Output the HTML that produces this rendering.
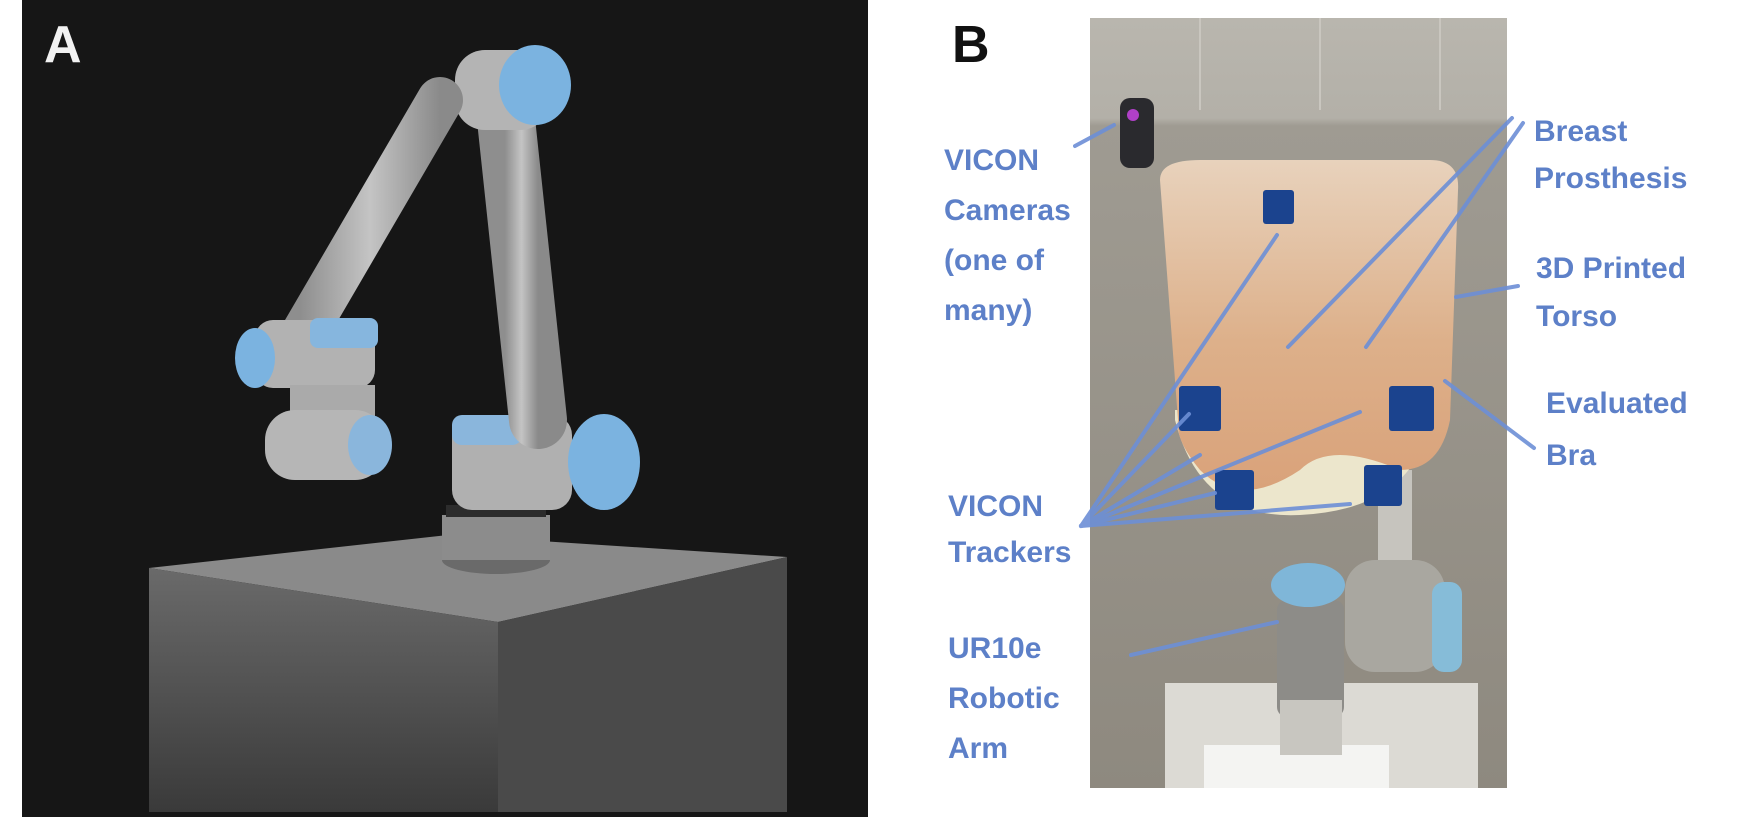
<!DOCTYPE html>
<html><head><meta charset="utf-8"><style>
html,body{margin:0;padding:0;background:#fff;}
body{width:1756px;height:827px;position:relative;overflow:hidden;font-family:"Liberation Sans",sans-serif;}
.l{position:absolute;color:#5d80c8;font-weight:bold;font-size:30px;line-height:50px;white-space:nowrap;}
</style></head><body>
<svg width="1756" height="827" style="position:absolute;left:0;top:0">
<defs>
<linearGradient id="tube" x1="0" y1="0" x2="1" y2="0"><stop offset="0" stop-color="#8e8e8e"/><stop offset=".5" stop-color="#c4c4c4"/><stop offset="1" stop-color="#8a8a8a"/></linearGradient>
<linearGradient id="boxf" x1="0" y1="0" x2="0" y2="1"><stop offset="0" stop-color="#6a6a6a"/><stop offset="1" stop-color="#3a3a3a"/></linearGradient>
<linearGradient id="bra" x1="0" y1="0" x2="0" y2="1"><stop offset="0" stop-color="#e8d2bc"/><stop offset=".55" stop-color="#ddb08a"/><stop offset="1" stop-color="#d9a27a"/></linearGradient>
<linearGradient id="bg" x1="0" y1="0" x2="0" y2="1"><stop offset="0" stop-color="#b9b6ae"/><stop offset=".13" stop-color="#b3b0a8"/><stop offset=".14" stop-color="#9f9b92"/><stop offset="1" stop-color="#8e897f"/></linearGradient>
</defs>
<!-- Panel A -->
<rect x="22" y="0" width="846" height="817" fill="#161616"/>
<text x="44" y="62" font-family="Liberation Sans" font-weight="bold" font-size="52" fill="#f2f2f2">A</text>
<!-- box -->
<polygon points="149,568 448,535 787,557 498,622" fill="#8a8a8a"/>
<polygon points="149,568 498,622 498,812 149,812" fill="url(#boxf)"/>
<polygon points="498,622 787,557 787,812 498,812" fill="#4a4a4a"/>
<!-- base -->
<ellipse cx="496" cy="560" rx="54" ry="14" fill="#6a6a6a"/>
<rect x="442" y="515" width="108" height="45" fill="#8c8c8c"/>
<rect x="446" y="505" width="100" height="12" fill="#2c2c2c"/>
<!-- shoulder -->
<rect x="452" y="415" width="120" height="95" rx="20" fill="#b0b0b0"/>
<rect x="452" y="415" width="70" height="30" rx="10" fill="#8ab6dc"/>
<ellipse cx="604" cy="462" rx="36" ry="48" fill="#7bb3e0"/>
<!-- upper arm -->
<line x1="538" y1="420" x2="505" y2="110" stroke="url(#tube)" stroke-width="58" stroke-linecap="round"/>
<!-- elbow -->
<rect x="455" y="50" width="95" height="80" rx="30" fill="#b4b4b4"/>
<ellipse cx="535" cy="85" rx="36" ry="40" fill="#7bb3e0"/>
<!-- forearm -->
<line x1="440" y1="100" x2="300" y2="340" stroke="url(#tube)" stroke-width="46" stroke-linecap="round"/>
<!-- wrist -->
<rect x="255" y="320" width="120" height="68" rx="18" fill="#b2b2b2"/>
<rect x="310" y="318" width="68" height="30" rx="8" fill="#86b6de"/>
<ellipse cx="255" cy="358" rx="20" ry="30" fill="#7bb3e0"/>
<rect x="290" y="385" width="85" height="60" fill="#aaaaaa"/>
<rect x="265" y="410" width="120" height="70" rx="30" fill="#b6b6b6"/>
<ellipse cx="370" cy="445" rx="22" ry="30" fill="#8ab6dc"/>
<!-- Panel B photo -->
<rect x="1090" y="18" width="417" height="770" fill="url(#bg)"/>
<g stroke="#c9c6bf" stroke-width="2"><line x1="1200" y1="18" x2="1200" y2="110"/><line x1="1320" y1="18" x2="1320" y2="110"/><line x1="1440" y1="18" x2="1440" y2="110"/></g>
<!-- camera -->
<rect x="1120" y="98" width="34" height="70" rx="10" fill="#2a2a2e"/>
<circle cx="1133" cy="115" r="6" fill="#b040c8"/>
<!-- column -->
<rect x="1378" y="470" width="34" height="110" fill="#c6c4be"/>
<!-- torso -->
<path d="M1175,420 Q1200,520 1300,515 Q1400,510 1425,440 L1425,410 L1175,410Z" fill="#ece6cc"/>
<path d="M1160,180 Q1160,160 1200,160 L1430,160 Q1460,160 1458,190 L1450,420 Q1440,470 1400,470 Q1330,440 1300,470 Q1240,510 1200,470 Q1175,440 1178,420 Z" fill="url(#bra)"/>
<!-- trackers -->
<g fill="#1b438e">
<rect x="1263" y="190" width="31" height="34" rx="3"/>
<rect x="1179" y="386" width="42" height="45" rx="3"/>
<rect x="1389" y="386" width="45" height="45" rx="3"/>
<rect x="1215" y="470" width="39" height="40" rx="3"/>
<rect x="1364" y="465" width="38" height="41" rx="3"/>
</g>
<!-- platform -->
<rect x="1165" y="683" width="313" height="105" fill="#dcdad4"/>
<rect x="1204" y="745" width="185" height="43" fill="#f4f4f2"/>
<!-- robot B -->
<rect x="1277" y="600" width="67" height="117" rx="10" fill="#8d8c88"/>
<rect x="1280" y="700" width="62" height="55" fill="#c8c6c0"/>
<ellipse cx="1308" cy="585" rx="37" ry="22" fill="#7fb6d8"/>
<rect x="1345" y="560" width="100" height="112" rx="30" fill="#a9a7a0"/>
<rect x="1432" y="582" width="30" height="90" rx="12" fill="#86bcd8"/>
<!-- arrows -->
<g stroke="#6d8fd6" stroke-width="4" stroke-linecap="round" opacity=".9" fill="none">
<line x1="1075" y1="146" x2="1114" y2="125"/>
<line x1="1512" y1="118" x2="1288" y2="347"/>
<line x1="1523" y1="123" x2="1366" y2="347"/>
<line x1="1518" y1="286" x2="1456" y2="297"/>
<line x1="1534" y1="448" x2="1445" y2="381"/>
<line x1="1081" y1="526" x2="1277" y2="235"/>
<line x1="1081" y1="526" x2="1189" y2="414"/>
<line x1="1081" y1="526" x2="1215" y2="493"/>
<line x1="1081" y1="526" x2="1360" y2="412"/>
<line x1="1081" y1="526" x2="1350" y2="504"/>
<line x1="1081" y1="526" x2="1200" y2="455"/>
<line x1="1131" y1="655" x2="1277" y2="622"/>
</g>
<text x="952" y="62" font-family="Liberation Sans" font-weight="bold" font-size="52" fill="#111">B</text>
</svg>
<div class="l" style="left:944px;top:136px">VICON<br>Cameras<br>(one of<br>many)</div>
<div class="l" style="left:948px;top:484px;line-height:46px">VICON<br>Trackers</div>
<div class="l" style="left:948px;top:624px">UR10e<br>Robotic<br>Arm</div>
<div class="l" style="left:1534px;top:108px;line-height:47px">Breast<br>Prosthesis</div>
<div class="l" style="left:1536px;top:245px;line-height:48px">3D Printed<br>Torso</div>
<div class="l" style="left:1546px;top:378px;line-height:52px">Evaluated<br>Bra</div>
</body></html>
